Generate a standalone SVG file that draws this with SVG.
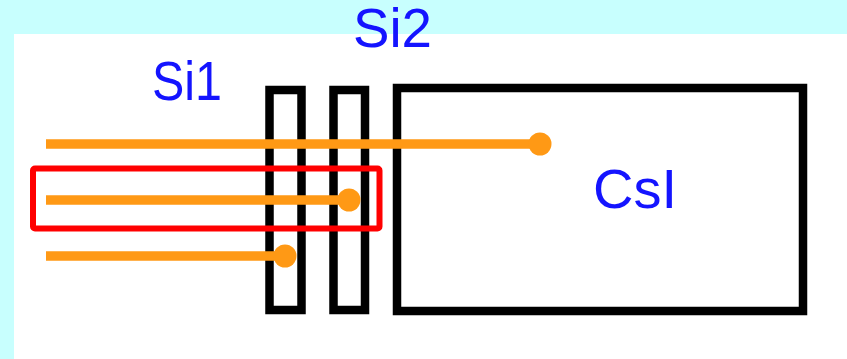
<svg xmlns="http://www.w3.org/2000/svg" width="847" height="359" viewBox="0 0 847 359">
  <style>
    .det { fill: none; stroke: #000000; stroke-width: 8.5; stroke-linejoin: miter; }
    .lbl { font-family: "Liberation Sans", "DejaVu Sans", sans-serif; fill: #1414ff; font-size: 55px; }
    .trk { stroke: #ff9915; stroke-width: 9.5; fill: none; }
    .hit { fill: #ff9915; }
  </style>
  <rect x="0" y="0" width="847" height="359" fill="#c8fffe"/>
  <rect x="14" y="34" width="833" height="325" fill="#ffffff"/>

  <g id="si1">
    <rect class="det" x="269.5" y="90" width="32" height="220"/>
    <text class="lbl" x="152" y="100" textLength="70" lengthAdjust="spacingAndGlyphs">Si1</text>
  </g>
  <g id="si2">
    <rect class="det" x="333.5" y="90" width="31.5" height="220"/>
    <text class="lbl" x="353" y="47" textLength="79" lengthAdjust="spacingAndGlyphs">Si2</text>
  </g>
  <g id="csi">
    <rect class="det" x="397" y="88" width="406" height="223" stroke-width="9"/>
    <text class="lbl" x="593" y="208" font-size="57" textLength="84" lengthAdjust="spacingAndGlyphs">CsI</text>
  </g>

  <g id="tracks">
    <line class="trk" x1="46" y1="144" x2="540" y2="144"/>
    <circle class="hit" cx="540" cy="144" r="11.5"/>
    <line class="trk" x1="46" y1="200" x2="349" y2="200"/>
    <circle class="hit" cx="349" cy="200" r="11.5"/>
    <line class="trk" x1="46" y1="256" x2="285" y2="256"/>
    <circle class="hit" cx="285" cy="256" r="11.5"/>
  </g>

  <g id="selection">
    <rect x="33" y="168.5" width="346.5" height="60" rx="2" fill="none" stroke="#ff0000" stroke-width="6"/>
  </g>
</svg>
